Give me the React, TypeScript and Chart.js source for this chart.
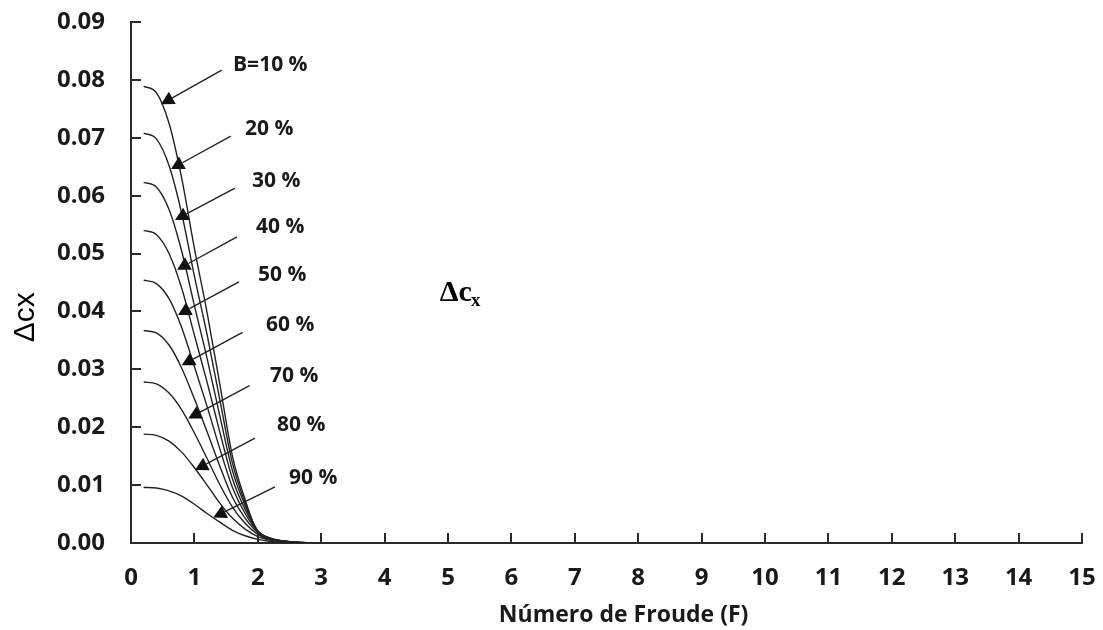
import React, { useEffect, useRef } from "react";
import { Chart, registerables } from "chart.js";

Chart.register(...registerables);

// Froude number sample points (x)
const froude = [0.2, 0.4, 0.6, 0.8, 1.0, 1.2, 1.4, 1.6, 1.8, 2.0, 2.2, 2.4, 2.6, 2.8, 3.0];

// Δcx values, one array per blockage ratio B
const b10 = [0.0789, 0.0778, 0.0725, 0.0630, 0.0509, 0.0398, 0.0275, 0.0150, 0.0075, 0.0018, 0.0006, 0.0003, 0.00015, 0.00006, 0];
const b20 = [0.0708, 0.0698, 0.0652, 0.0569, 0.0461, 0.0360, 0.0248, 0.0138, 0.0070, 0.0020, 0.00072, 0.00033, 0.00015, 0.00006, 0];
const b30 = [0.0623, 0.0615, 0.0576, 0.0504, 0.0410, 0.0319, 0.0220, 0.0125, 0.0065, 0.0021, 0.00079, 0.00035, 0.00014, 0.00005, 0.00001];
const b40 = [0.0540, 0.0533, 0.0500, 0.0440, 0.0359, 0.0278, 0.0192, 0.0111, 0.0058, 0.0021, 0.00083, 0.00035, 0.00014, 0.00005, 0.00001];
const b50 = [0.0454, 0.0448, 0.0422, 0.0372, 0.0305, 0.0236, 0.0163, 0.0096, 0.0051, 0.0020, 0.00081, 0.00034, 0.00012, 0.00004, 0.00001];
const b60 = [0.0367, 0.0363, 0.0342, 0.0302, 0.0249, 0.0192, 0.0133, 0.0079, 0.0043, 0.0018, 0.00075, 0.00030, 0.00011, 0.00003, 0.00001];
const b70 = [0.0278, 0.0275, 0.0259, 0.0230, 0.0190, 0.0146, 0.0101, 0.0062, 0.0034, 0.0015, 0.00064, 0.00026, 0.00009, 0.00003, 0.00001];
const b80 = [0.0188, 0.0186, 0.0176, 0.0157, 0.0130, 0.0100, 0.0069, 0.0043, 0.0024, 0.0011, 0.00048, 0.00019, 0.00006, 0.00002, 0.00001];
const b90 = [0.0096, 0.0095, 0.0090, 0.0081, 0.0067, 0.0051, 0.0036, 0.0022, 0.00125, 0.00062, 0.00027, 0.00010, 0.00003, 0.00001, 0];

const seriesValues = [b10, b20, b30, b40, b50, b60, b70, b80, b90];

// Annotation labels and arrows (data coordinates)
const labelTexts = ["B=10 %", "20 %", "30 %", "40 %", "50 %", "60 %", "70 %", "80 %", "90 %"];
const labelF = [1.609, 1.798, 1.909, 1.972, 2.003, 2.129, 2.192, 2.303, 2.492];
const labelV = [0.0825, 0.0715, 0.0626, 0.0545, 0.0463, 0.0377, 0.0288, 0.0203, 0.0113];
const arrowFromF = [1.431, 1.573, 1.640, 1.672, 1.703, 1.759, 1.869, 1.956, 2.271];
const arrowFromV = [0.0817, 0.0703, 0.0613, 0.0529, 0.0451, 0.0364, 0.0272, 0.0181, 0.0097];
const arrowToF = [0.473, 0.631, 0.694, 0.726, 0.741, 0.800, 0.904, 1.009, 1.298];
const arrowToV = [0.0758, 0.0646, 0.0558, 0.0472, 0.0394, 0.0307, 0.0215, 0.0126, 0.0044];

// Tick labels
const xTickValues = [0, 1, 2, 3, 4, 5, 6, 7, 8, 9, 10, 11, 12, 13, 14, 15];
const yTickLabels = ["0.00", "0.01", "0.02", "0.03", "0.04", "0.05", "0.06", "0.07", "0.08", "0.09"];

const xTitle = "Número de Froude (F)";
const yTitle = "Δcx";
const innerTitleMain = "Δc";
const innerTitleSub = "x";

const AXIS_COLOR = "#2b2b2b";
const TEXT_COLOR = "#1a1a1a";
const LINE_COLOR = "#222222";
const SANS = "'Open Sans', 'Noto Sans', sans-serif";

const overlayPlugin = {
  id: "overlay",
  afterDatasetsDraw(chart: any) {
    const { ctx, scales } = chart;
    const x = scales.x;
    const y = scales.y;
    ctx.save();

    // inward tick marks
    ctx.strokeStyle = AXIS_COLOR;
    ctx.lineWidth = 2;
    ctx.beginPath();
    y.ticks.forEach((t: any) => {
      const py = Math.round(y.getPixelForValue(t.value));
      ctx.moveTo(x.left, py);
      ctx.lineTo(x.left + 10, py);
    });
    x.ticks.forEach((t: any) => {
      const px = Math.round(x.getPixelForValue(t.value));
      ctx.moveTo(px, y.bottom);
      ctx.lineTo(px, y.bottom - 10);
    });
    ctx.stroke();

    // arrows
    ctx.strokeStyle = "#222";
    ctx.fillStyle = "#111";
    ctx.lineWidth = 1.4;
    for (let i = 0; i < labelTexts.length; i++) {
      const x0 = x.getPixelForValue(arrowFromF[i]);
      const y0 = y.getPixelForValue(arrowFromV[i]);
      const x1 = x.getPixelForValue(arrowToF[i]);
      const y1 = y.getPixelForValue(arrowToV[i]);
      const dx = x1 - x0;
      const dy = y1 - y0;
      const len = Math.hypot(dx, dy);
      const ux = dx / len;
      const uy = dy / len;
      const headLen = 13;
      const halfW = 7;
      const bx = x1 - ux * headLen;
      const by = y1 - uy * headLen;
      ctx.beginPath();
      ctx.moveTo(x0, y0);
      ctx.lineTo(bx, by);
      ctx.stroke();
      ctx.beginPath();
      ctx.moveTo(x1, y1);
      ctx.lineTo(bx - uy * halfW, by + ux * halfW);
      ctx.lineTo(bx + uy * halfW, by - ux * halfW);
      ctx.closePath();
      ctx.fill();
    }

    // curve labels
    ctx.fillStyle = TEXT_COLOR;
    ctx.font = `bold 21px ${SANS}`;
    ctx.textAlign = "left";
    ctx.textBaseline = "middle";
    for (let i = 0; i < labelTexts.length; i++) {
      ctx.fillText(labelTexts[i], x.getPixelForValue(labelF[i]), y.getPixelForValue(labelV[i]));
    }

    // inner title Δc_x
    ctx.fillStyle = "#000";
    ctx.textBaseline = "alphabetic";
    ctx.font = "bold 30px 'Liberation Serif', 'DejaVu Serif', serif";
    const tx = x.getPixelForValue(4.87);
    const ty = y.getPixelForValue(0.0418);
    ctx.fillText(innerTitleMain, tx, ty);
    const w = ctx.measureText(innerTitleMain).width;
    ctx.font = "bold 19px 'Liberation Serif', 'DejaVu Serif', serif";
    ctx.fillText(innerTitleSub, tx + w - 1, ty + 5);

    // x axis title
    ctx.fillStyle = TEXT_COLOR;
    ctx.font = `bold 23px ${SANS}`;
    ctx.textAlign = "center";
    ctx.textBaseline = "alphabetic";
    ctx.fillText(xTitle, x.getPixelForValue(7.77), 622);

    // y axis title (rotated)
    ctx.save();
    ctx.translate(x.left - 105, y.getPixelForValue(0.039));
    ctx.rotate(-Math.PI / 2);
    ctx.font = "30px 'Liberation Sans', Arial, sans-serif";
    ctx.textAlign = "center";
    ctx.textBaseline = "middle";
    ctx.fillStyle = "#000";
    ctx.fillText(yTitle, 0, 0);
    ctx.restore();

    ctx.restore();
  },
};

const zeroPadding = (scale: any) => {
  scale.paddingTop = 0;
  scale.paddingBottom = 0;
  scale.paddingLeft = 0;
  scale.paddingRight = 0;
};

export default function App() {
  const canvasRef = useRef<HTMLCanvasElement | null>(null);

  useEffect(() => {
    if (!canvasRef.current) return;
    const datasets = seriesValues.map((vals, i) => ({
      label: labelTexts[i],
      data: froude.map((f, j) => ({ x: f, y: vals[j] })),
      borderColor: LINE_COLOR,
      borderWidth: 1.4,
      pointRadius: 0,
      fill: false,
      cubicInterpolationMode: "monotone" as const,
    }));

    const chart = new Chart(canvasRef.current, {
      type: "line",
      data: { datasets },
      options: {
        animation: false,
        responsive: false,
        maintainAspectRatio: false,
        devicePixelRatio: 1,
        layout: { padding: { top: 22, right: 21, left: 0, bottom: 0 } },
        plugins: {
          legend: { display: false },
          tooltip: { enabled: false },
          title: { display: false },
        },
        scales: {
          x: {
            type: "linear",
            min: 0,
            max: 15,
            afterFit: (scale: any) => {
              scale.height = 87;
              zeroPadding(scale);
            },
            afterBuildTicks: (scale: any) => {
              scale.ticks = xTickValues.map((v) => ({ value: v }));
            },
            grid: { display: false, drawTicks: false },
            border: { display: true, color: AXIS_COLOR, width: 2 },
            ticks: {
              padding: 21,
              color: TEXT_COLOR,
              font: { family: SANS, size: 24, weight: "bold" },
              maxRotation: 0,
              autoSkip: false,
              callback: (v: any) => String(v),
            },
          },
          y: {
            type: "linear",
            min: 0,
            max: 0.09,
            afterFit: (scale: any) => {
              scale.width = 131;
              zeroPadding(scale);
            },
            afterBuildTicks: (scale: any) => {
              scale.ticks = yTickLabels.map((s) => ({ value: parseFloat(s) }));
            },
            grid: { display: false, drawTicks: false },
            border: { display: true, color: AXIS_COLOR, width: 2 },
            ticks: {
              padding: 26,
              color: TEXT_COLOR,
              font: { family: SANS, size: 24, weight: "bold" },
              autoSkip: false,
              callback: (v: any) => Number(v).toFixed(2),
            },
          },
        },
      },
      plugins: [overlayPlugin],
    });
    return () => chart.destroy();
  }, []);

  return (
    <div style={{ position: "absolute", left: 0, top: 0, width: 1103, height: 630, background: "#fff" }}>
      <canvas ref={canvasRef} width={1103} height={630} />
    </div>
  );
}
